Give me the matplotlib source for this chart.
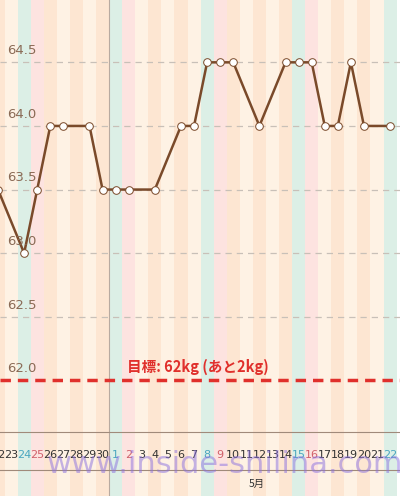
import matplotlib
matplotlib.use("Agg")
from matplotlib import pyplot as plt

plt.rcParams['font.family'] = ['Noto Sans CJK JP', 'DejaVu Sans']

# days: index 0 = Apr 22, index 30 = May 22
day_labels = ['22', '23', '24', '25', '26', '27', '28', '29', '30',
              '1', '2', '3', '4', '5', '6', '7', '8', '9', '10', '11', '12',
              '13', '14', '15', '16', '17', '18', '19', '20', '21', '22']
weekday = [3, 4, 5, 6, 0, 1, 2, 3, 4, 5, 6, 0, 1, 2, 3, 4, 5, 6, 0, 1, 2,
           3, 4, 5, 6, 0, 1, 2, 3, 4, 5]  # 5 = Sat, 6 = Sun
rec_idx = [0, 2, 3, 4, 5, 7, 8, 9, 10, 12, 14, 15, 16, 17, 18, 20,
           22, 23, 24, 25, 26, 27, 28, 30]
rec_w = [63.5, 63.0, 63.5, 64.0, 64.0, 64.0, 63.5, 63.5, 63.5, 63.5, 64.0, 64.0,
         64.5, 64.5, 64.5, 64.0, 64.5, 64.5, 64.5, 64.0, 64.0, 64.5, 64.0, 64.0]
goal = 62.0
yticks = [62.0, 62.5, 63.0, 63.5, 64.0, 64.5]

W, H = 400, 496
fig = plt.figure(figsize=(4, 4.96), dpi=100)
plot_h = 430
ax = fig.add_axes([0, 1 - plot_h / H, 1, plot_h / H])
lab = fig.add_axes([0, 0, 1, 1 - plot_h / H])

# one day = 13.07 px, day 0 sits at pixel -2
step = 13.07
xlim = (2 / step, 2 / step + W / step)
stripe = {5: '#dcefe6', 6: '#fde3e0'}
for a in (ax, lab):
    a.set_xlim(*xlim)
    for i, wd in enumerate(weekday):
        c = stripe.get(wd, '#fde6d2' if i % 2 == 0 else '#fef2e4')
        a.axvspan(i - 0.5, i + 0.5, color=c, lw=0, zorder=0)
    a.axvline(8.5, color='#b8aaa0', lw=0.8, zorder=1)
    a.set_axis_off()

ax.set_ylim(61.61, 64.99)
for y in yticks[1:]:
    ax.axhline(y, color='#c8c0b8', lw=0.9, ls=(0, (5, 4)), zorder=1)
for y in yticks:
    ax.text(xlim[0] + 7 / step, y + 0.04, f'{y:.1f}', color='#8a6a55', fontsize=9.5,
            va='bottom', zorder=5, family='DejaVu Sans')
ax.axhline(goal, color='#e0302c', lw=2.5, ls=(0, (3, 2)), zorder=3)
ax.text(9.9, goal + 0.04, '目標: 62kg (あと2kg)', color='#e0302c', fontsize=10.5,
        fontweight='bold', va='bottom', zorder=5)

ax.plot(rec_idx, rec_w, color='#7a4a2a', lw=1.8, marker='o', ms=5.5,
        mfc='white', mec='#7a4a2a', mew=0.7, zorder=4, clip_on=True)

lab.set_ylim(0, 1)
lab.axhline(0.97, color='#a08a7a', lw=0.8)
lab.axhline(0.39, color='#a08a7a', lw=0.8)
for i, t in enumerate(day_labels):
    col = {5: '#4aa6bf', 6: '#d0606a'}.get(weekday[i], '#333333')
    lab.text(i, 0.62, t, color=col, fontsize=8, ha='center', va='center',
             family='DejaVu Sans')
lab.text(19.8, 0.18, '5月', fontsize=7.5, ha='center', va='center', color='#333333')
lab.text(17.4, 0.47, 'www.inside-shilina.com', fontsize=22, color='#8a70e0',
         alpha=0.5, ha='center', va='center', family='DejaVu Sans')

fig.savefig('out.png', dpi=100)
